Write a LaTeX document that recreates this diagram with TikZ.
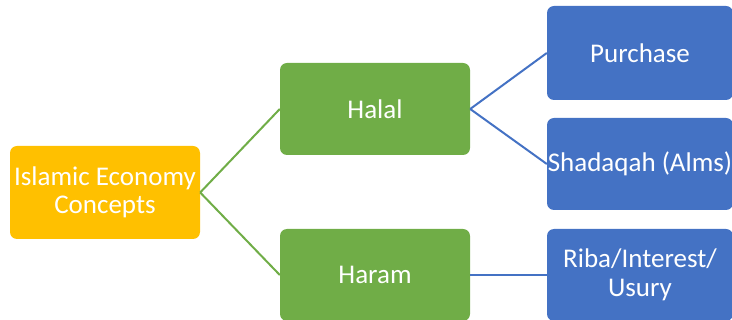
\documentclass[tikz,border=0pt]{standalone}
\usepackage{fontspec}
\setmainfont{Carlito}
\definecolor{cOrange}{HTML}{FFC000}
\definecolor{cGreen}{HTML}{70AD47}
\definecolor{cBlue}{HTML}{4472C4}
\begin{document}
\begin{tikzpicture}[x=1pt,y=-1pt,
  box/.style={rectangle, rounded corners=7pt, inner sep=0pt, text=white, align=center,
    font=\fontsize{27}{28.5}\selectfont},
  gline/.style={draw=cGreen, line width=2pt},
  bline/.style={draw=cBlue, line width=2pt}]
\useasboundingbox (0,0) rectangle (732,320);
\clip (0,0) rectangle (732,320);
\node[box, fill=cOrange, minimum width=190pt, minimum height=93pt] (root) at (105,192.5) {Islamic Economy\\Concepts};
\node[box, fill=cGreen, minimum width=190pt, minimum height=92pt] (halal) at (375,109) {Halal};
\node[box, fill=cGreen, minimum width=190pt, minimum height=92pt] (haram) at (375,275) {Haram};
\node[box, fill=cBlue, minimum width=186pt, minimum height=94pt] (purchase) at (640,53) {Purchase};
\node[box, fill=cBlue, minimum width=186pt, minimum height=92pt] (shadaqah) at (640,164) {Shadaqah (Alms)};
\node[box, fill=cBlue, minimum width=186pt, minimum height=92pt] (riba) at (640,275) {Riba/Interest/\\Usury};
\draw[gline] (root.east) -- (halal.west);
\draw[gline] (root.east) -- (haram.west);
\draw[bline] (halal.east) -- (purchase.west);
\draw[bline] (halal.east) -- (shadaqah.west);
\draw[bline] (haram.east) -- (riba.west);
\end{tikzpicture}
\end{document}
